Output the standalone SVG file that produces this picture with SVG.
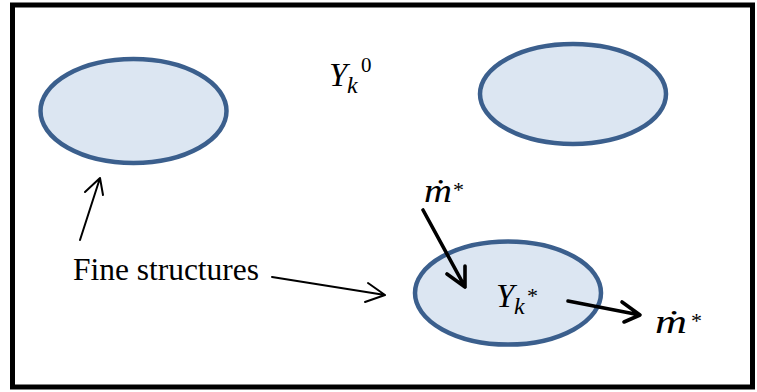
<svg xmlns="http://www.w3.org/2000/svg" width="757" height="392" viewBox="0 0 757 392">
<style>
.blob{fill:#DCE6F2;stroke:#3B5F8D;stroke-width:4.5}
.math{font-family:"Liberation Serif",serif;font-style:italic;fill:#000}
.up{font-style:normal}
.lbl{font-family:"Liberation Serif",serif;font-size:31px;fill:#000}
.thin{stroke:#000;stroke-width:2;fill:none;stroke-linecap:round;stroke-linejoin:round}
.thick{stroke:#000;stroke-width:3.6;fill:none;stroke-linecap:round;stroke-linejoin:round}
</style>
<rect x="0" y="0" width="757" height="392" fill="#fff"/>
<rect x="12.5" y="5" width="740" height="382" fill="none" stroke="#000" stroke-width="5"/>
<g id="structure1"><ellipse class="blob" cx="133.5" cy="111" rx="93" ry="52"/></g>
<g id="structure2"><ellipse class="blob" cx="573" cy="94" rx="93" ry="50"/></g>
<g id="structure3"><ellipse class="blob" cx="508" cy="293" rx="93" ry="51.5"/></g>
<g id="surroundings">
<text class="math" font-size="33" x="329" y="86">Y</text>
<text class="math" font-size="24" x="347" y="93">k</text>
<text class="math up" font-size="21" x="361" y="72">0</text>
</g>
<g id="label-fine">
<text class="lbl" x="73" y="280" textLength="186" lengthAdjust="spacingAndGlyphs">Fine structures</text>
</g>
<g id="inside">
<text class="math" font-size="33" x="496" y="307">Y</text>
<text class="math" font-size="24" x="514" y="314">k</text>
<text class="math up" font-size="22" x="527" y="303">*</text>
</g>
<g id="mdot-in">
<text class="math" font-size="33" x="424" y="202" textLength="28" lengthAdjust="spacingAndGlyphs">ṁ</text>
<text class="math up" font-size="22" x="453" y="197">*</text>
</g>
<g id="mdot-out">
<text class="math" font-size="33" x="655" y="333" textLength="32" lengthAdjust="spacingAndGlyphs">ṁ</text>
<text class="math up" font-size="22" x="691" y="328">*</text>
</g>
<g id="connectors">
<path class="thin" d="M80 240 L100 178 M85 192 L100 178 L103 195"/>
<path class="thin" d="M272 277 L385 295 M368 283 L385 295 L365 302"/>
<path class="thick" d="M423 210 L465 287 M447 274 L465 287 L465 266"/>
<path class="thick" d="M568 301 L640 315 M622 302 L640 315 L624 322"/>
</g>
</svg>
